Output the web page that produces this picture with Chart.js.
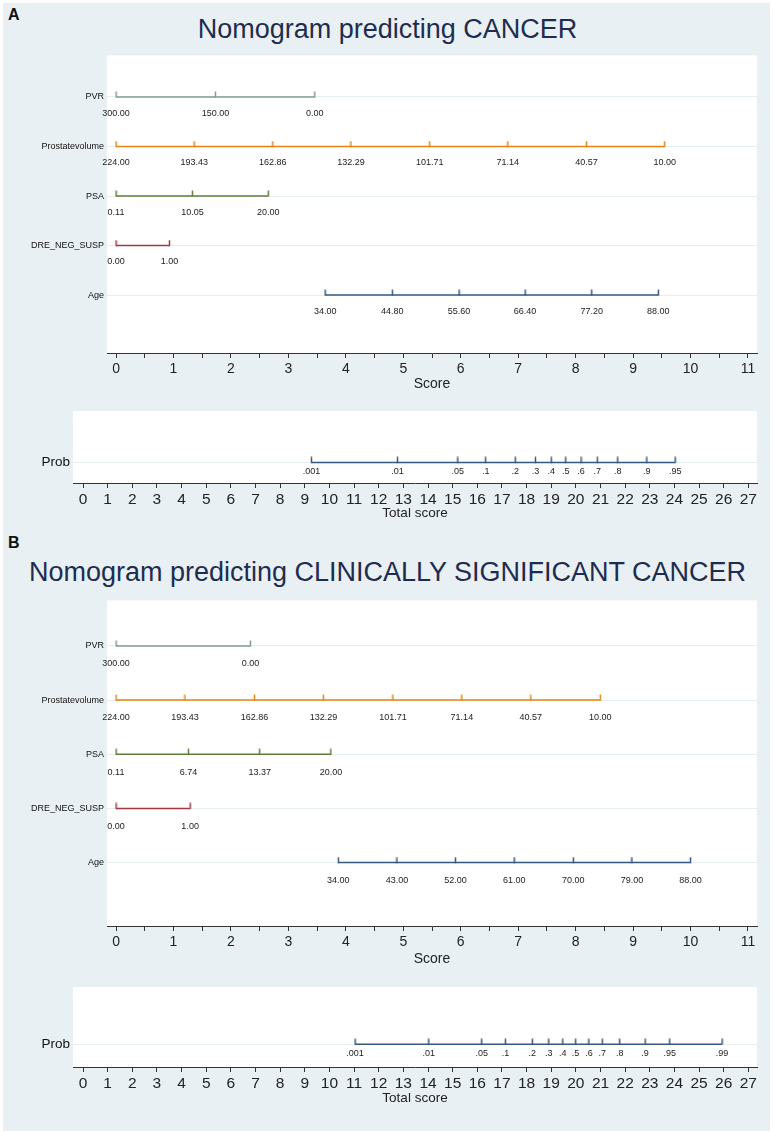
<!DOCTYPE html>
<html>
<head>
<meta charset="utf-8">
<script src="https://cdn.jsdelivr.net/npm/chart.js@4.4.1/dist/chart.umd.min.js"></script>
<style>
body { margin: 0; width: 773px; height: 1134px; position: relative; overflow: hidden; background: #fff; font-family: "Liberation Sans", Arial, sans-serif; }
#bg { position: absolute; left: 3px; top: 3px; width: 767px; height: 1128px; background: #e9f0f3; }
.letter { position: absolute; left: 8px; font-weight: bold; font-size: 16px; line-height: 20px; color: #111; }
.title { position: absolute; left: 0; width: 775px; text-align: center; font-size: 27px; line-height: 32px; color: #1e2d4f; }
canvas { position: absolute; left: 0; }
</style>
</head>
<body>
<div id="bg"></div>
<div class="letter" style="top:5px">A</div>
<div class="title" style="top:13px">Nomogram predicting CANCER</div>
<canvas id="c1" width="773" height="346" style="top:47px"></canvas>
<canvas id="c2" width="773" height="121" style="top:400px"></canvas>
<div class="letter" style="top:533px">B</div>
<div class="title" style="top:556px">Nomogram predicting CLINICALLY SIGNIFICANT CANCER</div>
<canvas id="c3" width="773" height="376" style="top:592px"></canvas>
<canvas id="c4" width="773" height="130" style="top:976px"></canvas>
<script>
// row names and colours (same for both panels)
const rowNames = ['PVR', 'Prostatevolume', 'PSA', 'DRE_NEG_SUSP', 'Age'];
const rowColors = ['#7f9c95', '#e5850f', '#5d7e37', '#a0393e', '#35587e'];
const probColor = '#35587e';

// axis ticks
const scoreTicks = [0, 0.5, 1, 1.5, 2, 2.5, 3, 3.5, 4, 4.5, 5, 5.5, 6, 6.5, 7, 7.5, 8, 8.5, 9, 9.5, 10, 10.5, 11];
const totalTicks = [0, 1, 2, 3, 4, 5, 6, 7, 8, 9, 10, 11, 12, 13, 14, 15, 16, 17, 18, 19, 20, 21, 22, 23, 24, 25, 26, 27];

// Panel A - CANCER
const aPvrLabels = ['300.00', '150.00', '0.00'];
const aPvrScores = [0, 1.73, 3.46];
const aVolLabels = ['224.00', '193.43', '162.86', '132.29', '101.71', '71.14', '40.57', '10.00'];
const aVolScores = [0, 1.36, 2.73, 4.09, 5.46, 6.82, 8.19, 9.55];
const aPsaLabels = ['0.11', '10.05', '20.00'];
const aPsaScores = [0, 1.33, 2.65];
const aDreLabels = ['0.00', '1.00'];
const aDreScores = [0, 0.93];
const aAgeLabels = ['34.00', '44.80', '55.60', '66.40', '77.20', '88.00'];
const aAgeScores = [3.64, 4.81, 5.97, 7.12, 8.28, 9.44];
const aProbLabels = ['.001', '.01', '.05', '.1', '.2', '.3', '.4', '.5', '.6', '.7', '.8', '.9', '.95'];
const aProbScores = [9.27, 12.76, 15.21, 16.34, 17.54, 18.36, 19.0, 19.59, 20.21, 20.87, 21.70, 22.88, 24.03];

// Panel B - CLINICALLY SIGNIFICANT CANCER
const bPvrLabels = ['300.00', '0.00'];
const bPvrScores = [0, 2.34];
const bVolLabels = ['224.00', '193.43', '162.86', '132.29', '101.71', '71.14', '40.57', '10.00'];
const bVolScores = [0, 1.20, 2.41, 3.61, 4.82, 6.02, 7.22, 8.43];
const bPsaLabels = ['0.11', '6.74', '13.37', '20.00'];
const bPsaScores = [0, 1.26, 2.50, 3.74];
const bDreLabels = ['0.00', '1.00'];
const bDreScores = [0, 1.29];
const bAgeLabels = ['34.00', '43.00', '52.00', '61.00', '70.00', '79.00', '88.00'];
const bAgeScores = [3.87, 4.89, 5.91, 6.93, 7.96, 8.98, 10.0];
const bProbLabels = ['.001', '.01', '.05', '.1', '.2', '.3', '.4', '.5', '.6', '.7', '.8', '.9', '.95', '.99'];
const bProbScores = [11.04, 14.03, 16.18, 17.14, 18.23, 18.9, 19.47, 19.99, 20.53, 21.07, 21.78, 22.81, 23.81, 25.93];

Chart.defaults.font.family = '"Liberation Sans", Arial, sans-serif';
Chart.defaults.color = '#222';

// little upward tick used as point style
function tickMark(color) {
  const c = document.createElement('canvas');
  c.width = 3;
  c.height = 12;
  const g = c.getContext('2d');
  g.strokeStyle = color;
  g.lineWidth = 1.5;
  g.beginPath();
  g.moveTo(1.5, 0.5);
  g.lineTo(1.5, 6.5);
  g.stroke();
  return c;
}

const whiteArea = {
  id: 'whiteArea',
  beforeDraw(chart) {
    const { ctx, chartArea: a } = chart;
    ctx.save();
    ctx.fillStyle = '#ffffff';
    ctx.fillRect(a.left, a.top, a.right - a.left, a.bottom - a.top);
    ctx.restore();
  }
};

const valueLabels = {
  id: 'valueLabels',
  afterDatasetsDraw(chart, args, opts) {
    const ctx = chart.ctx;
    const ys = chart.scales.y;
    ctx.save();
    ctx.font = opts.font;
    ctx.fillStyle = '#222';
    ctx.textAlign = 'center';
    ctx.textBaseline = 'middle';
    chart.data.datasets.forEach((ds, i) => {
      const meta = chart.getDatasetMeta(i);
      meta.data.forEach((pt, j) => {
        let y = opts.unitOffset ? ys.getPixelForValue(ds.row + opts.unitOffset) : pt.y + opts.pxOffset;
        ctx.fillText(ds.valueLabels[j], pt.x, y);
      });
    });
    ctx.restore();
  }
};

function rowDataset(row, scores, labels, color) {
  return {
    row: row,
    valueLabels: labels,
    data: scores.map(s => ({ x: s, y: row })),
    borderColor: color,
    borderWidth: 1.5,
    pointStyle: tickMark(color),
    pointRadius: 5,
    tension: 0
  };
}

function scoreChart(id, sets, xHeight) {
  new Chart(document.getElementById(id), {
    type: 'line',
    data: {
      datasets: sets.map((s, i) => rowDataset(i + 1, s[0], s[1], rowColors[i]))
    },
    options: {
      responsive: false,
      animation: false,
      events: [],
      layout: { padding: { left: 0, right: 16, top: 0, bottom: 0 } },
      plugins: {
        legend: { display: false },
        tooltip: { enabled: false },
        valueLabels: { font: '9px "Liberation Sans", Arial, sans-serif', unitOffset: 0.33 }
      },
      scales: {
        x: {
          type: 'linear', min: -0.157, max: 11.157,
          afterBuildTicks: s => { s.ticks = scoreTicks.map(v => ({ value: v })); },
          ticks: {
            autoSkip: false, maxRotation: 0, padding: 3, font: { size: 14 }, color: '#222',
            callback: v => Number.isInteger(v) ? String(v) : ''
          },
          grid: { drawOnChartArea: false, tickLength: 5, color: '#333' },
          border: { display: true, color: '#333', width: 1 },
          title: { display: true, text: 'Score', font: { size: 14 }, color: '#222', padding: 0 },
          afterFit: s => { s.height = xHeight; }
        },
        y: {
          type: 'linear', reverse: true, min: 0.16, max: 6.17,
          afterBuildTicks: s => { s.ticks = [1, 2, 3, 4, 5].map(v => ({ value: v })); },
          ticks: {
            autoSkip: false, padding: 3, font: { size: 9 }, color: '#111',
            callback: (v, i) => rowNames[i]
          },
          grid: { drawTicks: false, color: '#e6edf1', lineWidth: 1 },
          border: { display: false },
          afterFit: s => { s.width = 107; }
        }
      }
    },
    plugins: [whiteArea, valueLabels]
  });
}

function probChart(id, scores, labels, xHeight) {
  new Chart(document.getElementById(id), {
    type: 'line',
    data: { datasets: [rowDataset(1, scores, labels, probColor)] },
    options: {
      responsive: false,
      animation: false,
      events: [],
      layout: { padding: { left: 0, right: 16, top: 0, bottom: 0 } },
      plugins: {
        legend: { display: false },
        tooltip: { enabled: false },
        valueLabels: { font: '9px "Liberation Sans", Arial, sans-serif', pxOffset: 9 }
      },
      scales: {
        x: {
          type: 'linear', min: -0.406, max: 27.35,
          afterBuildTicks: s => { s.ticks = totalTicks.map(v => ({ value: v })); },
          ticks: { autoSkip: false, maxRotation: 0, padding: 2, font: { size: 15.5 }, color: '#222' },
          grid: { drawOnChartArea: false, tickLength: 5, color: '#333' },
          border: { display: true, color: '#333', width: 1 },
          title: { display: true, text: 'Total score', font: { size: 13.5 }, color: '#222', padding: 0 },
          afterFit: s => { s.height = xHeight; }
        },
        y: {
          type: 'linear', reverse: true, min: 0, max: 1.4,
          afterBuildTicks: s => { s.ticks = [{ value: 1 }]; },
          ticks: { padding: 3, font: { size: 13.5 }, color: '#111', callback: () => 'Prob' },
          grid: { drawTicks: false, color: '#e6edf1', lineWidth: 1 },
          border: { display: false },
          afterFit: s => { s.width = 73; }
        }
      }
    },
    plugins: [whiteArea, valueLabels]
  });
}

scoreChart('c1', [
  [aPvrScores, aPvrLabels],
  [aVolScores, aVolLabels],
  [aPsaScores, aPsaLabels],
  [aDreScores, aDreLabels],
  [aAgeScores, aAgeLabels]
], 40);
probChart('c2', aProbScores, aProbLabels, 38);

scoreChart('c3', [
  [bPvrScores, bPvrLabels],
  [bVolScores, bVolLabels],
  [bPsaScores, bPsaLabels],
  [bDreScores, bDreLabels],
  [bAgeScores, bAgeLabels]
], 42);
probChart('c4', bProbScores, bProbLabels, 39);
</script>
</body>
</html>
